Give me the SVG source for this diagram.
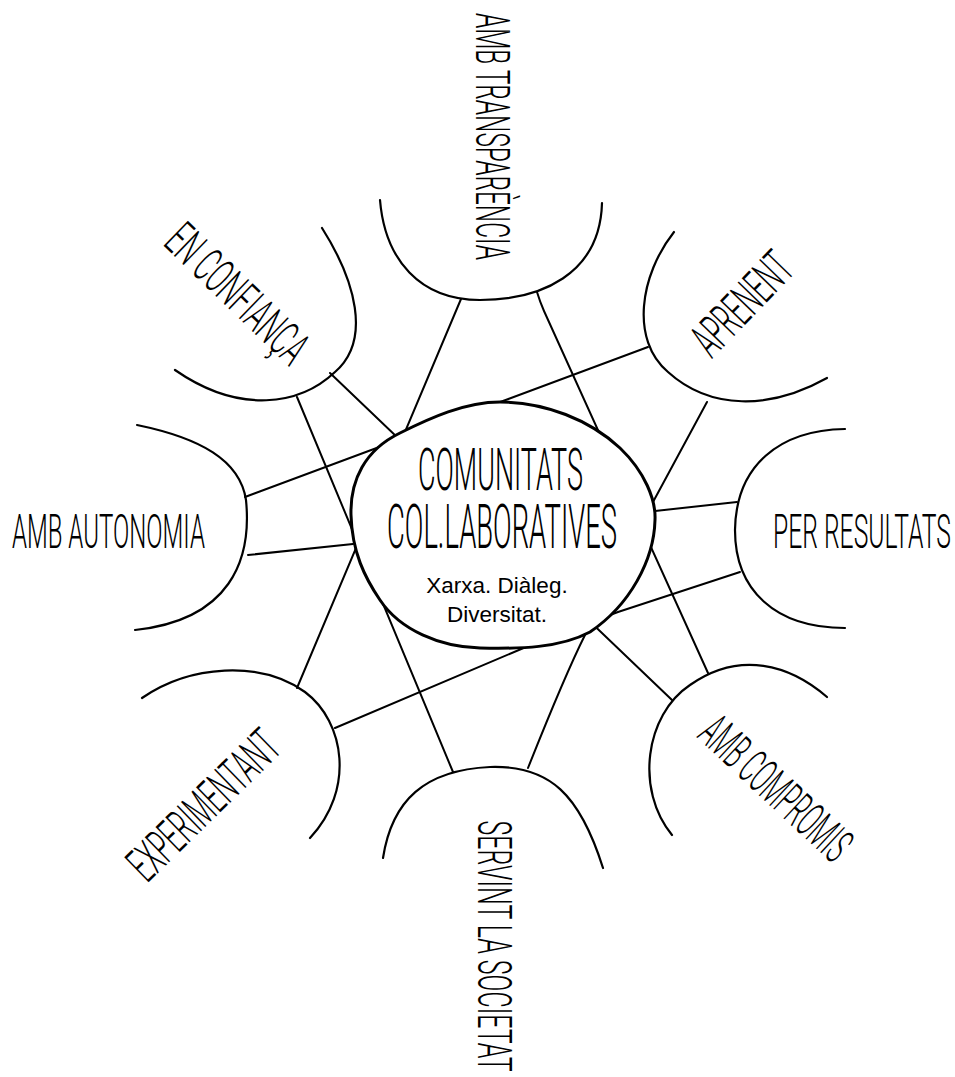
<svg xmlns="http://www.w3.org/2000/svg" width="955" height="1077" viewBox="0 0 955 1077">
<style>
.bg{fill:#ffffff}
.conn{fill:none;stroke:#000;stroke-width:2;stroke-linecap:round;stroke-linejoin:round}
.petal{fill:none;stroke:#000;stroke-width:2.2;stroke-linecap:round}
.blob{fill:#ffffff;stroke:#000;stroke-width:3}
.lbl{font-family:"Roboto","Liberation Sans",sans-serif;font-weight:300;font-size:49px;fill:#000}
.title{font-family:"Roboto","Liberation Sans",sans-serif;font-weight:300;font-size:60px;fill:#000}
.sub{font-family:"Liberation Sans","Helvetica",Arial,sans-serif;font-size:22.5px;fill:#000}
</style>
<rect class="bg" x="0" y="0" width="955" height="1077"/>
<g id="connectors">
<path class="conn" d="M461,299 L297,688"/>
<path class="conn" d="M537,292 Q540,302 544,311 L708,673"/>
<path class="conn" d="M330,373 L672,700"/>
<path class="conn" d="M297,397 L453,772"/>
<path class="conn" d="M245,497 L648,347"/>
<path class="conn" d="M248,555 L353,544"/>
<path class="conn" d="M737,502 L655,511"/>
<path class="conn" d="M740,572 L618,612 L533,644 L335,728"/>
<path class="conn" d="M707,402 L653,502"/>
<path class="conn" d="M585,635 Q565,675 528,768"/>
</g>
<g id="node-transparencia">
<path class="petal" d="M380,200 C385,260 420,300 480,300 C540,300 600,275 602,203"/>
<text class="lbl" text-anchor="middle" textLength="494" lengthAdjust="spacingAndGlyphs" transform="translate(493.5,136.5) rotate(90) scale(0.5,1)" x="0" y="17">AMB TRANSPARÈNCIA</text>
</g>
<g id="node-confianca">
<path class="petal" d="M322,228 C355,280 372,340 335,372 C300,405 240,415 175,370"/>
<text class="lbl" text-anchor="middle" textLength="354" lengthAdjust="spacingAndGlyphs" transform="translate(237.5,293.5) rotate(44) scale(0.5,1)" x="0" y="17">EN CONFIANÇA</text>
</g>
<g id="node-aprenent">
<path class="petal" d="M674,232 C640,275 630,340 668,372 C710,410 770,410 827,378"/>
<text class="lbl" text-anchor="middle" textLength="244" lengthAdjust="spacingAndGlyphs" transform="translate(742,303.5) rotate(-46) scale(0.5,1)" x="0" y="17">APRENENT</text>
</g>
<g id="node-autonomia">
<path class="petal" d="M137,425 C200,438 240,460 246,500 C252,560 230,620 135,630"/>
<text class="lbl" transform="translate(12,548) scale(0.5,1)" x="0" y="0" textLength="386" lengthAdjust="spacingAndGlyphs">AMB AUTONOMIA</text>
</g>
<g id="node-resultats">
<path class="petal" d="M845,429 C780,430 736,465 735,530 C735,590 775,628 845,628"/>
<text class="lbl" transform="translate(773,548) scale(0.5,1)" x="0" y="0" textLength="356" lengthAdjust="spacingAndGlyphs">PER RESULTATS</text>
</g>
<g id="node-experimentant">
<path class="petal" d="M142,698 C190,665 260,660 305,692 C345,722 355,790 310,838"/>
<text class="lbl" text-anchor="middle" textLength="382" lengthAdjust="spacingAndGlyphs" transform="translate(203.5,805) rotate(-44.3) scale(0.5,1)" x="0" y="17">EXPERIMENTANT</text>
</g>
<g id="node-servint">
<path class="petal" d="M383,858 C392,800 425,770 490,767 C550,765 580,795 603,868"/>
<text class="lbl" text-anchor="middle" textLength="502" lengthAdjust="spacingAndGlyphs" transform="translate(495,946) rotate(90) scale(0.5,1)" x="0" y="17">SERVINT LA SOCIETAT</text>
</g>
<g id="node-compromis">
<path class="petal" d="M827,697 C790,665 740,650 690,685 C645,715 635,790 672,835"/>
<text class="lbl" text-anchor="middle" textLength="374" lengthAdjust="spacingAndGlyphs" transform="translate(776,788) rotate(43) scale(0.5,1)" x="0" y="17">AMB COMPROMIS</text>
</g>
<g id="node-center">
<path class="blob" d="M500,402 C545,402 590,420 620,448 C645,472 656,500 655,520 C654,560 630,605 590,632 C560,648 520,649 480,648 C440,647 400,630 380,600 C365,578 352,552 351,515 C350,480 365,450 400,433 C430,418 465,402 500,402 Z"/>
<text class="title" transform="translate(500.5,490) scale(0.5,1)" x="0" y="0" text-anchor="middle" textLength="330" lengthAdjust="spacingAndGlyphs">COMUNITATS</text>
<text class="title" transform="translate(502,548) scale(0.5,1)" x="0" y="0" text-anchor="middle" textLength="460" lengthAdjust="spacingAndGlyphs" style="font-size:62px">COL.LABORATIVES</text>
<text class="sub" x="497" y="593" text-anchor="middle">Xarxa. Diàleg.</text>
<text class="sub" x="497" y="622" text-anchor="middle">Diversitat.</text>
</g>
</svg>
